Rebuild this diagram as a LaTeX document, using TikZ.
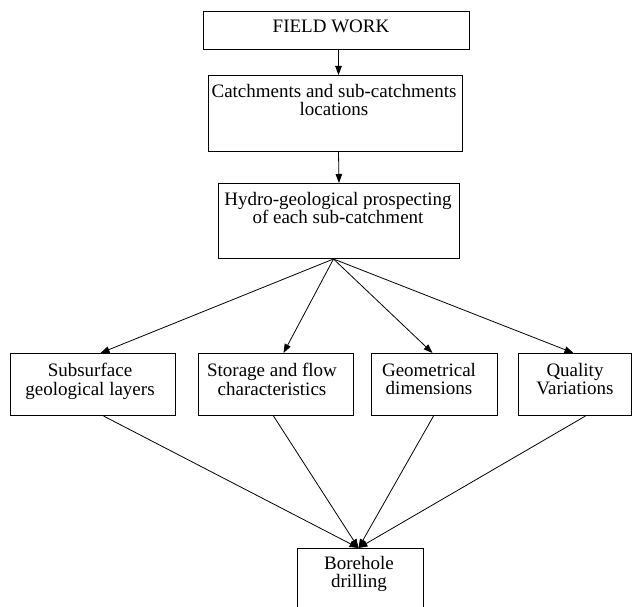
\documentclass[tikz,border=0pt]{standalone}
\usepackage{fontspec}
\setmainfont{Liberation Serif}
\usetikzlibrary{arrows.meta,calc}
\begin{document}
\begin{tikzpicture}[x=1pt,y=-1pt,
  box/.style={draw,line width=1pt,inner sep=0pt,anchor=north west},
  txt/.style={align=center,font=\fontsize{19}{18.5}\selectfont,inner sep=0pt,anchor=north},
  arr/.style={line width=0.8pt,-{Triangle[length=9pt,width=6.5pt]}}]
\path[use as bounding box,clip] (0,0) rectangle (633,607);
% boxes
\node[box,minimum width=266pt,minimum height=38pt] (fw) at (203,11) {};
\node[box,minimum width=254pt,minimum height=76pt] (cat) at (208,75) {};
\node[box,minimum width=241pt,minimum height=75pt] (hyd) at (218,183) {};
\node[box,minimum width=165pt,minimum height=62pt] (sub) at (10,353) {};
\node[box,minimum width=155pt,minimum height=62pt] (sto) at (198,353) {};
\node[box,minimum width=126pt,minimum height=62pt] (geo) at (371,353) {};
\node[box,minimum width=113pt,minimum height=62pt] (qua) at (518,353) {};
\node[box,minimum width=126pt,minimum height=80pt] (bor) at (297,548) {};
% texts
\node[txt] (tfw) at (331,20) {FIELD WORK};
\node[txt] (tcat) at (334,84) {Catchments and sub-catchments\\locations};
\node[txt] (thyd) at (338,192) {Hydro-geological prospecting\\of each sub-catchment};
\node[txt] (tsub) at (90,363) {Subsurface\\geological layers};
\node[txt] (tsto) at (272,363) {Storage and flow\\characteristics};
\node[txt] (tgeo) at (429,363) {Geometrical\\dimensions};
\node[txt] (tqua) at (575,363) {Quality\\Variations};
\node[txt] (tbor) at (359,556) {Borehole\\drilling};
% connectors
\draw[arr] ([xshift=2pt]fw.south) -- ([xshift=3pt]cat.north);
\draw[arr] ([xshift=3pt]cat.south) -- (hyd.north);
\draw[arr] ([xshift=-5.5pt]hyd.south) -- ([xshift=7.5pt]sub.north);
\draw[arr] ([xshift=-5.5pt]hyd.south) -- ([xshift=7.5pt]sto.north);
\draw[arr] ([xshift=-5.5pt]hyd.south) -- ([xshift=-2pt]geo.north);
\draw[arr] ([xshift=-5.5pt]hyd.south) -- ([xshift=-1.5pt]qua.north);
\draw[arr] ([xshift=10.5pt]sub.south) -- ([xshift=-2pt]bor.north);
\draw[arr] ([xshift=-2.5pt]sto.south) -- ([xshift=-2pt]bor.north);
\draw[arr] ([xshift=-1pt]geo.south) -- ([xshift=-2pt]bor.north);
\draw[arr] ([xshift=10.5pt]qua.south) -- ([xshift=-2pt]bor.north);
\end{tikzpicture}
\end{document}
